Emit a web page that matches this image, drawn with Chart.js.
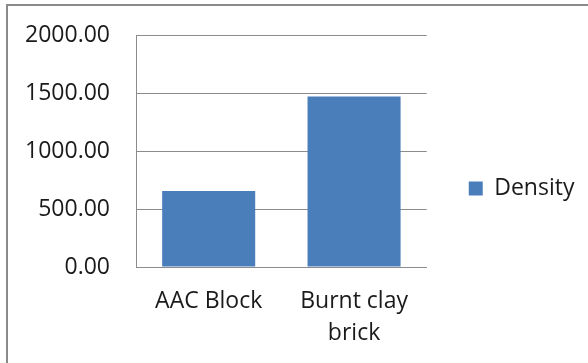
<!DOCTYPE html>
<html>
<head>
<meta charset="utf-8">
<script src="https://cdn.jsdelivr.net/npm/chart.js@4/dist/chart.umd.min.js"></script>
<style>
  html, body { margin: 0; padding: 0; background: #fff; overflow: hidden; }
  #frame {
    position: absolute; left: 6px; top: 4px; width: 700px; height: 500px;
    border-left: 2px solid #8a8a8a; border-top: 2px solid #8a8a8a;
  }
  #wrap { position: absolute; left: 0; top: 0; width: 588px; height: 363px; }
</style>
</head>
<body>
<div id="frame"></div>
<div id="wrap"><canvas id="chart" width="588" height="363"></canvas></div>
<script>
// chart values
var categories = ['AAC Block', ['Burnt clay', 'brick']];
var densityValues = [655, 1470];
var yTickValues = [0, 500, 1000, 1500, 2000];

var BAR_COLOR = '#4a7ebb';
var GRID_COLOR = '#8c8c8c';
var TEXT_COLOR = '#1a1a1a';
var FONT = '"Open Sans", "Liberation Sans", sans-serif';

// legend box is clipped to its own width; let it run to the canvas edge
var widenLegend = {
  id: 'widenLegend',
  afterLayout: function (chart) {
    var lg = chart.legend;
    if (!lg) return;
    lg.right = chart.width;
    lg.width = lg.right - lg.left;
  },
};

function drawChart() {
  var ctx = document.getElementById('chart').getContext('2d');

  new Chart(ctx, {
    type: 'bar',
    data: {
      labels: categories,
      datasets: [{
        label: 'Density',
        data: densityValues,
        backgroundColor: BAR_COLOR,
        borderWidth: 0,
        barPercentage: 0.64,
        categoryPercentage: 1,
      }],
    },
    plugins: [widenLegend],
    options: {
      responsive: false,
      animation: false,
      layout: { padding: { top: 35, bottom: 21, left: 0, right: 19 } },
      plugins: {
        tooltip: { enabled: false },
        legend: {
          position: 'right',
          labels: {
            color: TEXT_COLOR,
            font: { family: FONT, size: 23 },
            boxWidth: 14,
            boxHeight: 14,
            padding: 42,
          },
        },
      },
      scales: {
        x: {
          grid: { display: false, drawTicks: false },
          border: { display: true, color: GRID_COLOR, width: 1 },
          ticks: {
            color: TEXT_COLOR,
            font: { family: FONT, size: 23, lineHeight: 1.38 },
            padding: 19,
            maxRotation: 0,
            autoSkip: false,
          },
          afterFit: function (scale) { scale.height = 75; },
        },
        y: {
          min: 0,
          max: 2000,
          afterBuildTicks: function (scale) {
            scale.ticks = yTickValues.map(function (v) { return { value: v }; });
          },
          // invisible tick marks only push the labels away from the axis
          grid: { color: GRID_COLOR, drawTicks: true, tickLength: 5, tickColor: 'rgba(0,0,0,0)', lineWidth: 1 },
          border: { display: true, color: GRID_COLOR, width: 1 },
          ticks: {
            color: TEXT_COLOR,
            font: { family: FONT, size: 23, lineHeight: 1 },
            padding: 21,
            callback: function (v) { return Number(v).toFixed(2); },
          },
          afterFit: function (scale) { scale.width = 136; },
        },
      },
    },
  });
}

// wait for the local font so text is measured with the right metrics
document.fonts.load('23px "Open Sans"').then(drawChart, drawChart);
</script>
</body>
</html>
